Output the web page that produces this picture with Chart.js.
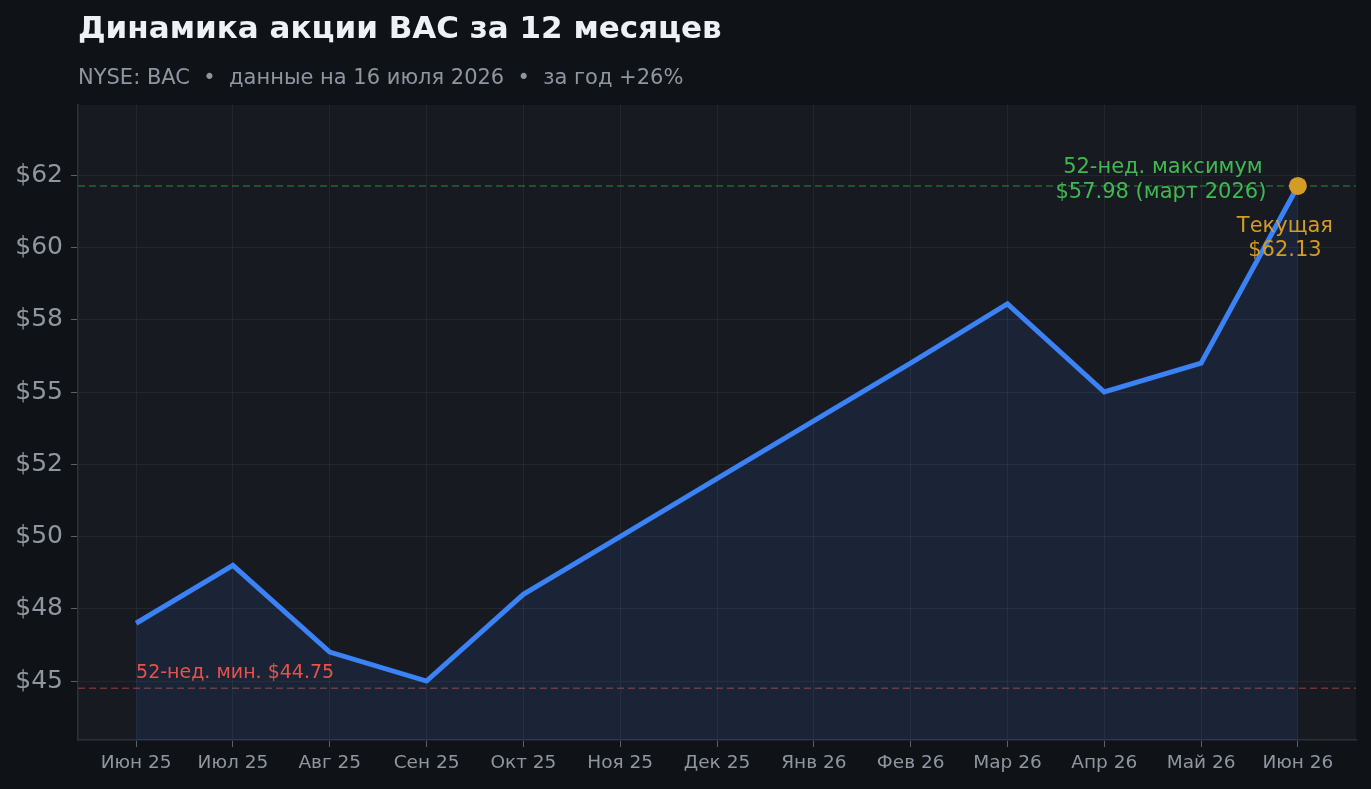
<!DOCTYPE html>
<html lang="ru">
<head>
<meta charset="utf-8">
<title>Динамика акции BAC</title>
<script src="https://cdn.jsdelivr.net/npm/chart.js@4.4.1/dist/chart.umd.min.js"></script>
<style>
  html, body { margin: 0; padding: 0; background: #0f1318; }
  #wrap { width: 1371px; height: 789px; }
</style>
</head>
<body>
<div id="wrap"><canvas id="chart" width="1371" height="789"></canvas></div>
<script>
// ===== Data =====
const months = ['Июн 25', 'Июл 25', 'Авг 25', 'Сен 25', 'Окт 25', 'Ноя 25', 'Дек 25',
                'Янв 26', 'Фев 26', 'Мар 26', 'Апр 26', 'Май 26', 'Июн 26'];
const prices = [47.0, 49.0, 46.0, 45.0, 48.0, 50.0, 52.0, 54.0, 56.0, 58.05, 55.0, 56.0, 62.13];

const yTickValues = [45, 47.5, 50, 52.5, 55, 57.5, 60, 62.5];
const yTickLabels = ['$45', '$48', '$50', '$52', '$55', '$58', '$60', '$62'];

const lowValue = 44.75;
const highLineValue = 62.13;
const highLabel = ['52-нед. максимум', '$57.98 (март 2026)'];
const lowLabel = '52-нед. мин. $44.75';
const currentLabel = ['Текущая', '$62.13'];

// ===== Colours =====
const C = {
  page: '#0f1318',
  plot: '#171a21',
  grid: 'rgba(255,255,255,0.055)',
  axis: '#2c323c',
  tickText: '#8f96a0',
  line: '#3b82f6',
  fill: 'rgba(59,130,246,0.10)',
  green: '#3fb950',
  greenDash: 'rgba(63,185,80,0.45)',
  red: '#e5534b',
  redDash: 'rgba(229,83,75,0.45)',
  orange: '#d49b25',
  title: '#eef1f5',
  subtitle: '#8f96a0'
};

Chart.defaults.font.family = '"DejaVu Sans", sans-serif';

const last = prices.length - 1;

// ===== Custom drawing: background, reference lines, notes =====
const decorPlugin = {
  id: 'decor',
  beforeDraw(chart) {
    const { ctx, chartArea: a } = chart;
    ctx.save();
    ctx.fillStyle = C.page;
    ctx.fillRect(0, 0, chart.width, chart.height);
    ctx.fillStyle = C.plot;
    ctx.fillRect(a.left, a.top, a.right - a.left, a.bottom - a.top);

    // title + subtitle
    ctx.textBaseline = 'alphabetic';
    ctx.textAlign = 'left';
    ctx.fillStyle = C.title;
    ctx.font = 'bold 31px "DejaVu Sans"';
    ctx.fillText('Динамика акции BAC за 12 месяцев', 78, 38);
    ctx.fillStyle = C.subtitle;
    ctx.font = '21px "DejaVu Sans"';
    ctx.fillText('NYSE: BAC  •  данные на 16 июля 2026  •  за год +26%', 78, 84);
    ctx.restore();
  },
  beforeDatasetsDraw(chart) {
    const { ctx, chartArea: a, scales } = chart;
    const yHigh = scales.y.getPixelForValue(highLineValue);
    const yLow = scales.y.getPixelForValue(lowValue);
    ctx.save();
    ctx.lineWidth = 1.5;
    ctx.setLineDash([7, 4]);
    ctx.strokeStyle = C.greenDash;
    ctx.beginPath(); ctx.moveTo(a.left, yHigh); ctx.lineTo(a.right, yHigh); ctx.stroke();
    ctx.strokeStyle = C.redDash;
    ctx.beginPath(); ctx.moveTo(a.left, yLow); ctx.lineTo(a.right, yLow); ctx.stroke();
    ctx.restore();
  },
  afterDatasetsDraw(chart) {
    const { ctx, scales } = chart;
    const px = scales.x.getPixelForValue(last);
    const py = scales.y.getPixelForValue(prices[last]);
    const yLow = scales.y.getPixelForValue(lowValue);
    ctx.save();
    ctx.font = '21px "DejaVu Sans"';
    ctx.textBaseline = 'middle';

    // 52-week high note
    ctx.fillStyle = C.green;
    ctx.textAlign = 'center';
    ctx.fillText(highLabel[0], px - 135, py - 18);
    ctx.fillText(highLabel[1], px - 137, py + 7);

    // current price note
    ctx.fillStyle = C.orange;
    ctx.fillText(currentLabel[0], px - 13, py + 41);
    ctx.fillText(currentLabel[1], px - 13, py + 65);

    // 52-week low note
    ctx.fillStyle = C.red;
    ctx.textAlign = 'left';
    ctx.font = '19px "DejaVu Sans"';
    ctx.fillText(lowLabel, scales.x.getPixelForValue(0), yLow - 15);
    ctx.restore();
  }
};

// ===== Chart =====
new Chart(document.getElementById('chart'), {
  type: 'line',
  data: {
    datasets: [{
      data: prices.map((p, i) => ({ x: i, y: p })),
      borderColor: C.line,
      borderWidth: 5,
      backgroundColor: C.fill,
      fill: 'start',
      tension: 0,
      pointRadius: ctx => ctx.dataIndex === last ? 9 : 0,
      pointHoverRadius: ctx => ctx.dataIndex === last ? 9 : 0,
      pointBackgroundColor: C.orange,
      pointBorderWidth: 0
    }]
  },
  options: {
    responsive: false,
    animation: false,
    devicePixelRatio: 1,
    layout: { padding: { top: 105, right: 15, left: 0, bottom: 0 } },
    plugins: {
      legend: { display: false },
      tooltip: { enabled: false }
    },
    scales: {
      x: {
        type: 'linear',
        min: -0.6,
        max: 12.6,
        afterBuildTicks: s => { s.ticks = months.map((m, i) => ({ value: i })); },
        afterFit: s => { s.height = 49; },
        ticks: {
          callback: v => months[v],
          color: C.tickText,
          font: { size: 18.5 },
          padding: 5,
          maxRotation: 0,
          autoSkip: false
        },
        grid: { color: C.grid, tickColor: '#5a616c', tickLength: 7, lineWidth: 1 },
        border: { color: C.axis, width: 1.5 }
      },
      y: {
        min: 42.96,
        max: 64.93,
        afterBuildTicks: s => { s.ticks = yTickValues.map(v => ({ value: v })); },
        afterFit: s => { s.width = 78; },
        ticks: {
          callback: (v, i) => yTickLabels[i],
          color: C.tickText,
          font: { size: 25 },
          padding: 8
        },
        grid: { color: C.grid, tickColor: '#5a616c', tickLength: 7, lineWidth: 1 },
        border: { color: C.axis, width: 1.5 }
      }
    }
  },
  plugins: [decorPlugin]
});
</script>
</body>
</html>
